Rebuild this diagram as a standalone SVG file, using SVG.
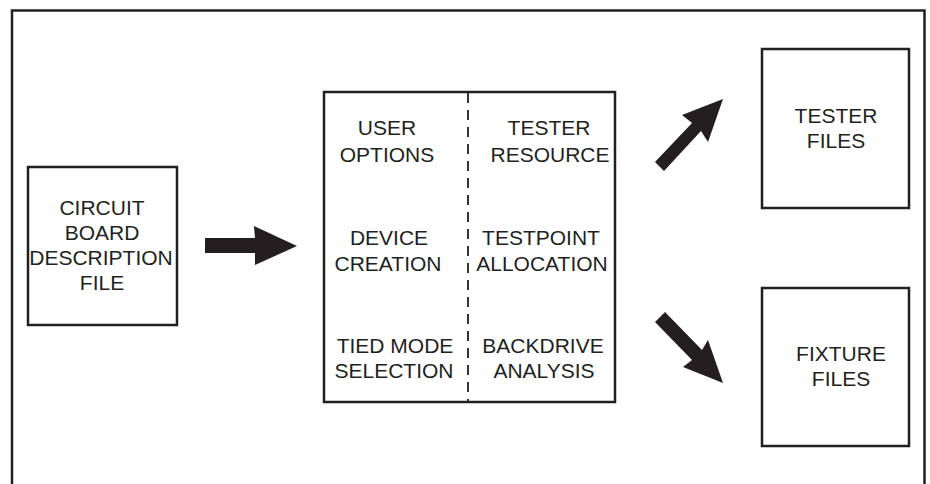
<svg xmlns="http://www.w3.org/2000/svg" width="930" height="484" viewBox="0 0 930 484">
<style>
.box{fill:#fff;stroke:#231f20;stroke-width:2.5}
.frame{fill:none;stroke:#231f20;stroke-width:2.5}
.t{font-family:"Liberation Sans",Arial,sans-serif;font-size:21px;fill:#231f20;text-anchor:middle}
.arrow{fill:#231f20}
</style>
<rect width="930" height="484" fill="#fff"/>
<path class="frame" d="M12,484 V10.5 H924.5 V484"/>
<g id="circuit">
<rect class="box" x="28" y="167" width="149" height="158"/>
<text class="t"><tspan x="102" y="215">CIRCUIT</tspan><tspan x="102" y="240">BOARD</tspan><tspan x="101" y="265">DESCRIPTION</tspan><tspan x="102" y="290">FILE</tspan></text>
</g>
<g id="processor">
<rect class="box" x="324" y="92" width="291" height="310"/>
<line x1="468" y1="93" x2="468" y2="401" stroke="#231f20" stroke-width="1.8" stroke-dasharray="10,7"/>
<text class="t"><tspan x="387" y="135">USER</tspan><tspan x="387" y="162">OPTIONS</tspan></text>
<text class="t"><tspan x="389" y="245">DEVICE</tspan><tspan x="388" y="271">CREATION</tspan></text>
<text class="t"><tspan x="395" y="353">TIED MODE</tspan><tspan x="394" y="378">SELECTION</tspan></text>
<text class="t"><tspan x="549" y="135">TESTER</tspan><tspan x="550" y="162">RESOURCE</tspan></text>
<text class="t"><tspan x="541" y="245">TESTPOINT</tspan><tspan x="542" y="271">ALLOCATION</tspan></text>
<text class="t"><tspan x="543" y="353">BACKDRIVE</tspan><tspan x="544" y="378">ANALYSIS</tspan></text>
</g>
<g id="tester">
<rect class="box" x="762" y="49" width="147" height="159"/>
<text class="t"><tspan x="836" y="123">TESTER</tspan><tspan x="836" y="148">FILES</tspan></text>
</g>
<g id="fixture">
<rect class="box" x="762" y="288" width="147" height="158"/>
<text class="t"><tspan x="841" y="361">FIXTURE</tspan><tspan x="841" y="386">FILES</tspan></text>
</g>
<g id="connectors">
<polygon class="arrow" points="205,238 255,238 254,226 297,246 255,265 255,253 205,253"/>
<polygon class="arrow" points="655,162 692,123 682,115 723,99 708,142 701,131 664,171"/>
<polygon class="arrow" points="665,312 702,350 708,340 723,383 683,367 692,360 655,322"/>
</g>
</svg>
